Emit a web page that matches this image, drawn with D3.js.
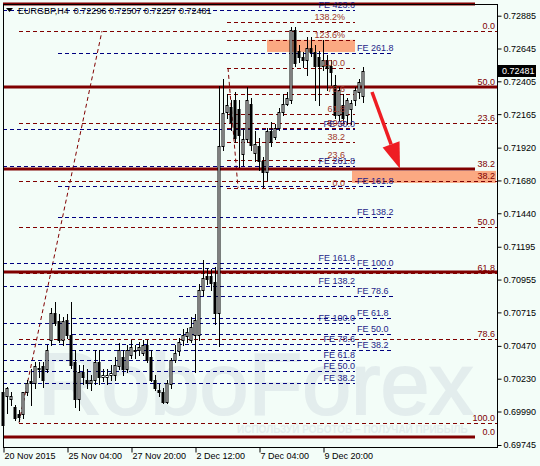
<!DOCTYPE html>
<html>
<head>
<meta charset="utf-8">
<script src="https://cdnjs.cloudflare.com/ajax/libs/d3/7.8.5/d3.min.js"></script>
<style>
body { margin: 0; background: #f3fdf8; }
text { font-family: "Liberation Sans", Arial, sans-serif; }
</style>
</head>
<body>
<script>
// H4 candles, first bar = 20 Nov 2015 12:00
var opens  = [0.7013,0.7010,0.7008,0.7002,0.6997,0.6997,0.7013,0.7021,0.7020,0.7030,0.7032,0.7030,0.7051,0.7071,0.7065,0.7051,0.7066,0.7055,0.7035,0.7008,
              0.7028,0.7022,0.7020,0.7022,0.7035,0.7024,0.7024,0.7026,0.7026,0.7032,0.7039,0.7030,0.7040,0.7043,0.7044,0.7042,0.7048,0.7039,0.7022,0.7015,
              0.7013,0.7006,0.7019,0.7037,0.7043,0.7051,0.7054,0.7051,0.7055,0.7055,0.7088,0.7098,0.7098,0.7094,0.7071,0.7193,0.7218,0.7222,0.7227,0.7220,
              0.7187,0.7198,0.7224,0.7188,0.7193,0.7182,0.7174,0.7204,0.7200,0.7206,0.7218,0.7224,0.7227,0.7278,0.7263,0.7258,0.7256,0.7265,0.7262,0.7258,
              0.7252,0.7256,0.7252,0.7238,0.7216,0.7223,0.7216,0.7220,0.7227,0.7233,0.72296];
var highs  = [0.7016,0.7017,0.7013,0.7004,0.7000,0.7013,0.7022,0.7030,0.7035,0.7035,0.7035,0.7048,0.7075,0.7079,0.7070,0.7068,0.7070,0.7079,0.7044,0.7033,
              0.7033,0.7030,0.7026,0.7044,0.7044,0.7030,0.7030,0.7033,0.7039,0.7049,0.7044,0.7048,0.7051,0.7048,0.7050,0.7051,0.7051,0.7044,0.7026,0.7019,
              0.7016,0.7022,0.7038,0.7048,0.7053,0.7059,0.7060,0.7068,0.7070,0.7092,0.7110,0.7104,0.7103,0.7105,0.7237,0.7242,0.7231,0.7227,0.7233,0.7227,
              0.7206,0.7236,0.7228,0.7204,0.7199,0.7185,0.7206,0.7211,0.7209,0.7221,0.7231,0.7233,0.7280,0.7280,0.7267,0.7262,0.7273,0.7273,0.7267,0.7263,
              0.7271,0.7260,0.7256,0.7245,0.7236,0.7231,0.7228,0.7227,0.7236,0.7242,0.72507];
var lows   = [0.6984,0.6998,0.7004,0.6993,0.6992,0.6994,0.7011,0.7004,0.7016,0.7024,0.7017,0.7028,0.7048,0.7062,0.7050,0.7048,0.7053,0.7031,0.7002,0.7000,
              0.7019,0.7016,0.7015,0.7019,0.7019,0.7021,0.7019,0.7022,0.7022,0.7030,0.7026,0.7028,0.7038,0.7038,0.7040,0.7040,0.7035,0.7021,0.7015,0.7010,
              0.7005,0.7005,0.7016,0.7035,0.7040,0.7048,0.7050,0.7050,0.7028,0.7051,0.7084,0.7092,0.7088,0.7063,0.7047,0.7190,0.7214,0.7205,0.7196,0.7178,
              0.7179,0.7196,0.7190,0.7182,0.7176,0.7163,0.7168,0.7193,0.7198,0.7205,0.7216,0.7223,0.7225,0.7252,0.7255,0.7251,0.7245,0.7259,0.7227,0.7223,
              0.7249,0.7234,0.7238,0.7214,0.7212,0.7211,0.7209,0.7209,0.7223,0.7228,0.72257];
var closes = [0.6989,0.7016,0.7010,0.6994,0.6995,0.7013,0.7020,0.7020,0.7032,0.7031,0.7022,0.7044,0.7071,0.7064,0.7051,0.7065,0.7055,0.7033,0.7008,0.7028,
              0.7024,0.7020,0.7022,0.7035,0.7024,0.7026,0.7026,0.7027,0.7033,0.7044,0.7030,0.7044,0.7046,0.7044,0.7046,0.7048,0.7037,0.7022,0.7016,0.7013,
              0.7006,0.7020,0.7037,0.7042,0.7050,0.7055,0.7057,0.7061,0.7066,0.7088,0.7097,0.7096,0.7093,0.7071,0.7193,0.7217,0.7223,0.7211,0.7199,0.7201,
              0.7198,0.7227,0.7194,0.7195,0.7182,0.7174,0.7204,0.7196,0.7206,0.7218,0.7224,0.7228,0.7278,0.7254,0.7258,0.7256,0.7265,0.7262,0.7252,0.7252,
              0.7256,0.7250,0.7247,0.7216,0.7234,0.7214,0.7227,0.7225,0.7234,0.7240,0.72481];

var timeTickBars = [0, 16, 32, 48, 64, 80];
var timeLabels = ["20 Nov 2015", "25 Nov 04:00", "27 Nov 20:00", "2 Dec 12:00", "7 Dec 04:00", "9 Dec 20:00"];
var priceTicks = [0.72885, 0.72645, 0.72405, 0.72165, 0.71920, 0.71680, 0.71440, 0.71195, 0.70955, 0.70715, 0.70470, 0.70230, 0.69990, 0.69745];

// fibo objects (prices of 0% and 100%)
var fiboA_zero = 0.69806, fiboA_full = 0.74922;
var fiboA_levels = [0, 23.6, 38.2, 50, 61.8];
var fiboB_zero = 0.72773, fiboB_full = 0.69908;
var fiboB_levels = [0, 23.6, 38.2, 50, 61.8, 78.6, 100];
var fiboC_zero = 0.71626, fiboC_full = 0.72503;
var fiboC_levels = [0, 23.6, 38.2, 50, 61.8, 78.6, 100, 123.6, 138.2];
var feLow_base = 0.6993, feLow_unit = 0.007076;
var feLow_levels = [38.2, 50, 61.8, 78.6, 100, 138.2, 161.8, 261.8, 423.6];
var feMid_base = 0.70071, feMid_unit = 0.0097;
var feMid_levels = [38.2, 50, 61.8, 78.6, 100, 138.2, 161.8, 261.8];
var feExtra_price = 0.72057;

var header = "EURGBP,H4  0.72296 0.72507 0.72257 0.72481";

var W = 540, H = 466;
var plot = {left: 3, right: 497, top: 4, bottom: 447};
var bg = "#f3fdf8", maroon = "#800000", navy = "#000080";
var fs = "9px";

var x = d3.scaleLinear().domain([0, 1]).range([3, 7]);
var y = d3.scaleLinear().domain([0.69745, 0.72885]).range([445, 15.7]);

var svg = d3.select("body").append("svg")
	.attr("width", W).attr("height", H)
	.style("display", "block").style("background", bg);

function crisp(v) { return Math.round(v) + 0.5; }

// watermark
svg.append("text").attr("x", 38).attr("y", 414)
	.style("font-size", "88px").style("fill", "#e3eded")
	.style("stroke", "#e3eded").style("stroke-width", 2)
	.text("RoboForex");
svg.append("text").attr("x", 237).attr("y", 433)
	.style("font-size", "10px").style("font-weight", "bold").style("fill", "#e3eded")
	.text("ИСПОЛЬЗУЙ РОБОТОВ – ПОЛУЧАЙ ПРИБЫЛЬ");

var objects = svg.append("g");

function hline(p, i0, i1, color, width, dash) {
	var l = objects.append("line")
		.attr("x1", x(i0)).attr("x2", x(i1))
		.attr("y1", width > 2 ? Math.round(y(p)) : crisp(y(p)))
		.attr("y2", width > 2 ? Math.round(y(p)) : crisp(y(p)))
		.attr("stroke", color).attr("stroke-width", width);
	if (dash) l.attr("stroke-dasharray", dash);
}

function label(txt, xpos, p, color, anchor) {
	svg.append("text").attr("class", "lbl")
		.attr("x", xpos).attr("y", Math.round(y(p)) - 2)
		.attr("text-anchor", anchor)
		.style("font-size", fs).style("fill", color)
		.text(txt);
}

// salmon zones
objects.append("rect")
	.attr("x", x(66)).attr("width", x(88) - x(66))
	.attr("y", y(0.72708)).attr("height", y(0.7262) - y(0.72708))
	.attr("fill", "#fba982");
objects.append("rect")
	.attr("x", x(87.25)).attr("width", x(123.25) - x(87.25))
	.attr("y", y(0.7175)).attr("height", y(0.71662) - y(0.7175))
	.attr("fill", "#fba982");

// thick fibo A levels
var fiboA_ends = [118, 123.5, 118, 123.5, 118];
fiboA_levels.forEach(function (lv, i) {
	var p = fiboA_zero + (fiboA_full - fiboA_zero) * lv / 100;
	hline(p, 0, fiboA_ends[i], maroon, 3);
});

// fibo B (dashed, full width)
fiboB_levels.forEach(function (lv) {
	var p = fiboB_zero + (fiboB_full - fiboB_zero) * lv / 100;
	hline(p, 4, 123.5, maroon, 1, "4,3");
});
objects.append("line")
	.attr("x1", x(4)).attr("y1", y(fiboB_full))
	.attr("x2", x(24.75)).attr("y2", y(fiboB_zero))
	.attr("stroke", maroon).attr("stroke-dasharray", "4,3");

// fibo C
fiboC_levels.forEach(function (lv) {
	var p = fiboC_zero + (fiboC_full - fiboC_zero) * lv / 100;
	hline(p, 56, 88, maroon, 1, "4,3");
});
objects.append("line")
	.attr("x1", x(56.25)).attr("y1", y(fiboC_full))
	.attr("x2", x(58.75)).attr("y2", y(fiboC_zero))
	.attr("stroke", maroon).attr("stroke-dasharray", "4,3");

// fibo expansions
feLow_levels.forEach(function (lv) {
	hline(feLow_base + feLow_unit * lv / 100, 0, 88, navy, 1, "4,3");
});
var feMid_starts = [17.25, 17.25, 17.25, 44, 13.75, 13.75, 13.75, 13.75];
feMid_levels.forEach(function (lv, i) {
	hline(feMid_base + feMid_unit * lv / 100, feMid_starts[i], 97.5, navy, 1, "4,3");
});
hline(feExtra_price, 0, 88, navy, 1, "4,3");

// candles
var candles = opens.map(function (o, i) {
	return {i: i, o: o, h: highs[i], l: lows[i], c: closes[i]};
});
var cg = svg.append("g");
cg.selectAll("line.wick").data(candles).enter().append("line")
	.attr("x1", function (d) { return x(d.i) + 0.5; })
	.attr("x2", function (d) { return x(d.i) + 0.5; })
	.attr("y1", function (d) { return Math.round(y(d.h)); })
	.attr("y2", function (d) { return Math.round(y(d.l)) + 1; })
	.attr("stroke", "#000");
cg.selectAll("rect.body").data(candles).enter().append("rect")
	.attr("x", function (d) { return x(d.i) - 1; })
	.attr("width", 2)
	.attr("y", function (d) { return Math.round(y(Math.max(d.o, d.c))) + 0.5; })
	.attr("height", function (d) { return Math.max(1, Math.round(y(Math.min(d.o, d.c))) - Math.round(y(Math.max(d.o, d.c)))); })
	.attr("fill", function (d) { return d.c >= d.o ? "#fff" : "#000"; })
	.attr("stroke", "#000");

// red arrow
var a0 = [x(92.25), y(0.72327)], a1 = [x(99.25), y(0.71765)];
var dx = a1[0] - a0[0], dy = a1[1] - a0[1], len = Math.sqrt(dx * dx + dy * dy);
var ux = dx / len, uy = dy / len;
var bx = a1[0] - 26 * ux, by = a1[1] - 26 * uy;
svg.append("line")
	.attr("x1", a0[0]).attr("y1", a0[1]).attr("x2", bx).attr("y2", by)
	.attr("stroke", "#ee1d23").attr("stroke-width", 3.5);
svg.append("path")
	.attr("d", "M" + a1[0] + "," + a1[1] +
		"L" + (bx - 9 * uy) + "," + (by + 9 * ux) +
		"L" + (bx + 9 * uy) + "," + (by - 9 * ux) + "Z")
	.attr("fill", "#ee1d23");

// level labels
fiboB_levels.forEach(function (lv) {
	label(d3.format(".1f")(lv), 495, fiboB_zero + (fiboB_full - fiboB_zero) * lv / 100, maroon, "end");
});
[0, 38.2, 50].forEach(function (lv) {
	label(d3.format(".1f")(lv), 495, fiboA_zero + (fiboA_full - fiboA_zero) * lv / 100, maroon, "end");
});
fiboC_levels.forEach(function (lv) {
	var t = d3.format(".1f")(lv) + (lv > 100 ? "%" : "");
	label(t, x(85.5), fiboC_zero + (fiboC_full - fiboC_zero) * lv / 100, "#a0372a", "end");
});
feLow_levels.forEach(function (lv) {
	label("FE " + d3.format(".1f")(lv), x(88), feLow_base + feLow_unit * lv / 100, "#1e1e88", "end");
});
feMid_levels.forEach(function (lv) {
	label("FE " + d3.format(".1f")(lv), x(88.5), feMid_base + feMid_unit * lv / 100, "#1e1e88", "start");
});
label("FE 50.0", x(88), feExtra_price, "#1e1e88", "end");

// frame
svg.append("rect")
	.attr("x", plot.left + 0.5).attr("y", plot.top + 0.5)
	.attr("width", plot.right - plot.left).attr("height", plot.bottom - plot.top)
	.attr("fill", "none").attr("stroke", "#000");

// axes
var yAxis = d3.axisRight(y).tickValues(priceTicks).tickFormat(d3.format(".5f")).tickSize(4);
var gy = svg.append("g").attr("transform", "translate(" + (plot.right + 0.5) + ",0)").call(yAxis);
var xAxis = d3.axisBottom(x).tickValues(timeTickBars)
	.tickFormat(function (d, i) { return timeLabels[i]; }).tickSize(5);
var gx = svg.append("g").attr("transform", "translate(0," + (plot.bottom + 0.5) + ")").call(xAxis);
[gy, gx].forEach(function (g) {
	g.select(".domain").remove();
	g.selectAll("text").style("font-size", fs).style("fill", "#000")
		.style("font-family", "'Liberation Sans', Arial, sans-serif");
	g.selectAll("line").attr("stroke", "#000");
});
gy.selectAll("text").attr("x", 6);
gx.selectAll(".tick line").attr("transform", "translate(0.5,0)");
gx.selectAll("text").attr("text-anchor", "start").attr("x", 1).attr("dy", "0.55em").attr("y", 7);

// current price tag
var last = closes[closes.length - 1];
svg.append("rect").attr("x", 498).attr("y", Math.round(y(last)) - 6).attr("width", 38).attr("height", 12).attr("fill", "#000");
svg.append("text").attr("x", 502).attr("y", Math.round(y(last)) + 3)
	.style("font-size", fs).style("fill", "#fff").text(d3.format(".5f")(last));

// header
svg.append("path").attr("d", "M6,8L13,8L9.5,12Z").attr("fill", "#000");
svg.append("text").attr("x", 18).attr("y", 14).style("font-size", fs).style("fill", "#000")
	.attr("xml:space", "preserve").text(header);
</script>
</body>
</html>
